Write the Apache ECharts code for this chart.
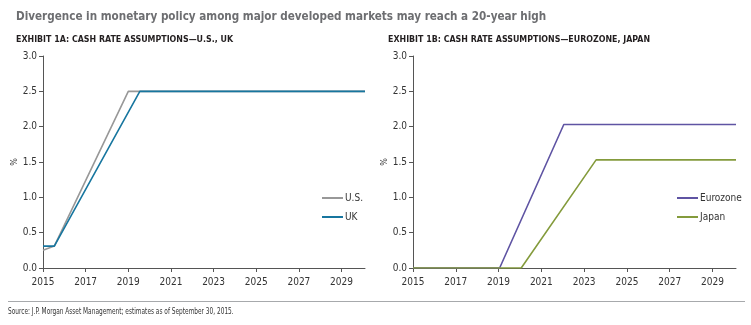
<!DOCTYPE html>
<html>
<head>
<meta charset="utf-8">
<script src="https://cdn.jsdelivr.net/npm/echarts@6/dist/echarts.min.js"></script>
<style>
  html, body { margin: 0; padding: 0; background: #fff; }
  #chart { width: 751px; height: 325px; }
</style>
</head>
<body>
<div id="chart"></div>
<script>
// Cash rate assumptions (%), breakpoints by year
var usYears = [2015, 2015.53, 2019.0, 2030.1];
var usRates = [0.25, 0.31, 2.5, 2.5];
var ukYears = [2015, 2015.53, 2019.54, 2030.1];
var ukRates = [0.31, 0.31, 2.5, 2.5];
var ezYears = [2015, 2019.05, 2022.05, 2030.1];
var ezRates = [0, 0, 2.03, 2.03];
var jpYears = [2015, 2020.06, 2023.56, 2030.1];
var jpRates = [0, 0, 1.53, 1.53];

var yTicks = [0, 0.5, 1, 1.5, 2, 2.5, 3];
var xStart = 2015, xEnd = 2030.1;

function pairs(xs, ys) {
  return xs.map(function (x, i) { return [x, ys[i]]; });
}

var FONT = '"DejaVu Sans Condensed", sans-serif';
var axisColor = '#555';
var textColor = '#333';

function xAxisFor(gi) {
  return {
    type: 'value', gridIndex: gi, min: xStart, max: xEnd, interval: 2,
    axisLine: { show: true, lineStyle: { color: axisColor, width: 1 } },
    axisTick: { show: true, length: 4, lineStyle: { color: axisColor } },
    splitLine: { show: false },
    axisLabel: {
      color: textColor, fontFamily: FONT, fontSize: 10, margin: 9,
      showMaxLabel: false,
      formatter: function (v) { return String(Math.round(v)); }
    }
  };
}
function yAxisFor(gi) {
  return {
    type: 'value', gridIndex: gi, min: yTicks[0], max: yTicks[yTicks.length - 1], interval: 0.5,
    name: '%', nameLocation: 'middle', nameGap: 21, nameRotate: 90,
    nameTextStyle: { color: textColor, fontFamily: FONT, fontSize: 9 },
    axisLine: { show: true, lineStyle: { color: axisColor, width: 1 } },
    axisTick: { show: true, length: 4, lineStyle: { color: axisColor } },
    splitLine: { show: false },
    axisLabel: {
      color: textColor, fontFamily: FONT, fontSize: 10, margin: 6,
      formatter: function (v) { return v.toFixed(1); }
    }
  };
}
function lineSeries(name, xi, yi, data, color) {
  return {
    name: name, type: 'line', xAxisIndex: xi, yAxisIndex: yi,
    data: data, showSymbol: false, symbol: 'none', animation: false,
    lineStyle: { color: color, width: 1.6 }, itemStyle: { color: color }
  };
}

var chart = echarts.init(document.getElementById('chart'), null, { renderer: 'canvas' });
chart.setOption({
  backgroundColor: '#fff',
  animation: false,
  title: [
    { text: 'Divergence in monetary policy among major developed markets may reach a 20-year high',
      left: 11, top: 6,
      textStyle: { color: '#6d6e71', fontFamily: FONT, fontSize: 11.6, fontWeight: 'bold' } },
    { text: 'EXHIBIT 1A: CASH RATE ASSUMPTIONS\u2014U.S., UK',
      left: 11, top: 30,
      textStyle: { color: '#231f20', fontFamily: FONT, fontSize: 8.8, fontWeight: 'bold' } },
    { text: 'EXHIBIT 1B: CASH RATE ASSUMPTIONS\u2014EUROZONE, JAPAN',
      left: 383, top: 30,
      textStyle: { color: '#231f20', fontFamily: FONT, fontSize: 8.8, fontWeight: 'bold' } }
  ],
  graphic: [
    { type: 'line', shape: { x1: 8, y1: 301.5, x2: 745, y2: 301.5 },
      style: { stroke: '#a7a9ac', lineWidth: 1.2 } },
    { type: 'text', x: 8, y: 312, scaleX: 0.72,
      style: { text: 'Source: J.P. Morgan Asset Management; estimates as of September 30, 2015.',
               fill: '#333', font: '9px "DejaVu Sans Condensed", sans-serif',
               verticalAlign: 'middle', align: 'left' } }
  ],
  grid: [
    { left: 43, right: 386, top: 56, bottom: 57 },
    { left: 413, right: 15, top: 56, bottom: 57 }
  ],
  xAxis: [xAxisFor(0), xAxisFor(1)],
  yAxis: [yAxisFor(0), yAxisFor(1)],
  legend: [
    { data: ['U.S.', 'UK'], orient: 'vertical', left: 317, top: 188, itemGap: 9,
      icon: 'rect', itemWidth: 21, itemHeight: 2,
      textStyle: { color: textColor, fontFamily: FONT, fontSize: 10, padding: [0, 0, 0, -3] } },
    { data: ['Eurozone', 'Japan'], orient: 'vertical', left: 672, top: 188, itemGap: 9,
      icon: 'rect', itemWidth: 21, itemHeight: 2,
      textStyle: { color: textColor, fontFamily: FONT, fontSize: 10, padding: [0, 0, 0, -3] } }
  ],
  series: [
    lineSeries('U.S.', 0, 0, pairs(usYears, usRates), '#989898'),
    lineSeries('UK', 0, 0, pairs(ukYears, ukRates), '#17769f'),
    lineSeries('Eurozone', 1, 1, pairs(ezYears, ezRates), '#5f54a3'),
    lineSeries('Japan', 1, 1, pairs(jpYears, jpRates), '#849b3c')
  ]
});
</script>
</body>
</html>
